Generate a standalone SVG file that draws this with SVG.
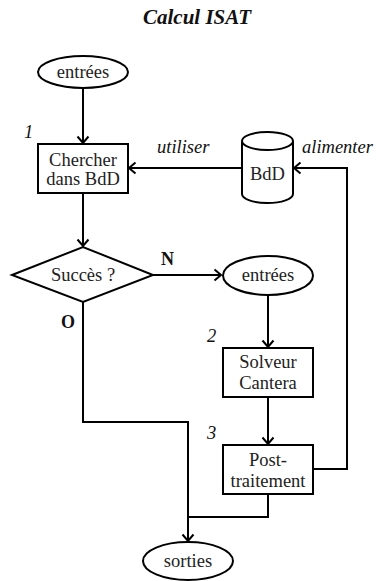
<svg xmlns="http://www.w3.org/2000/svg" width="377" height="581" viewBox="0 0 377 581">
<style>
.shape{fill:#fff;stroke:#000;stroke-width:2}
.t{font-family:"Liberation Serif",serif;font-size:18.5px;fill:#222;text-anchor:middle}
.it{font-family:"Liberation Serif",serif;font-size:18.5px;font-style:italic;fill:#111}
.b{font-family:"Liberation Serif",serif;font-size:18px;font-weight:bold;fill:#111}
.title{font-family:"Liberation Serif",serif;font-size:21px;font-weight:bold;font-style:italic;fill:#111;text-anchor:middle}
.c{fill:none;stroke:#000;stroke-width:2}
</style>
<defs>
<marker id="arr" viewBox="-10 -8 12 16" markerWidth="12" markerHeight="16" refX="0" refY="0" orient="auto" markerUnits="userSpaceOnUse">
<path d="M-6.5,-5.5 L0,0 L-6.5,5.5" fill="none" stroke="#000" stroke-width="2"/>
</marker>
</defs>
<text class="title" x="197" y="24">Calcul ISAT</text>
<g id="connectors">
<path class="c" d="M83,88 V143" marker-end="url(#arr)"/>
<path class="c" d="M242,168 H129" marker-end="url(#arr)"/>
<path class="c" d="M83,193 V246" marker-end="url(#arr)"/>
<path class="c" d="M153,275 H221" marker-end="url(#arr)"/>
<path class="c" d="M268,295 V347" marker-end="url(#arr)"/>
<path class="c" d="M268,397 V444" marker-end="url(#arr)"/>
<path class="c" d="M83,302 V422 H188 V541" marker-end="url(#arr)"/>
<path class="c" d="M268,494 V517 H188"/>
<path class="c" d="M313,469 H347 V168 H294" marker-end="url(#arr)"/>
<text class="it" x="157" y="153">utiliser</text>
<text class="it" x="302" y="153">alimenter</text>
<text class="b" x="161" y="265">N</text>
<text class="b" x="61" y="328">O</text>
</g>
<g id="n_entrees1">
<ellipse class="shape" cx="83" cy="72" rx="45" ry="16"/>
<text class="t" x="83" y="78">entrées</text>
</g>
<g id="n_chercher">
<rect class="shape" x="38" y="144" width="90" height="49"/>
<text class="t" x="83" y="166">Chercher</text>
<text class="t" x="83" y="185">dans BdD</text>
<text class="it" x="24" y="138">1</text>
</g>
<g id="n_bdd">
<path class="shape" d="M242,141 V194 A25.5,9 0 0 0 293,194 V141 A25.5,9 0 0 0 242,141 Z"/>
<path class="c" d="M242,141 A25.5,9 0 0 0 293,141"/>
<text class="t" x="267.5" y="180">BdD</text>
</g>
<g id="n_succes">
<polygon class="shape" points="12,275 83,247 153,275 83,302"/>
<text class="t" x="83" y="281">Succès ?</text>
</g>
<g id="n_entrees2">
<ellipse class="shape" cx="268" cy="275.5" rx="45" ry="19.5"/>
<text class="t" x="268" y="281">entrées</text>
</g>
<g id="n_solveur">
<rect class="shape" x="223" y="348" width="90" height="49"/>
<text class="t" x="268" y="368">Solveur</text>
<text class="t" x="268" y="389">Cantera</text>
<text class="it" x="207" y="342">2</text>
</g>
<g id="n_post">
<rect class="shape" x="223" y="445" width="90" height="49"/>
<text class="t" x="268" y="466">Post-</text>
<text class="t" x="268" y="487">traitement</text>
<text class="it" x="207" y="439">3</text>
</g>
<g id="n_sorties">
<ellipse class="shape" cx="188" cy="561" rx="45" ry="19"/>
<text class="t" x="188" y="567">sorties</text>
</g>
</svg>
